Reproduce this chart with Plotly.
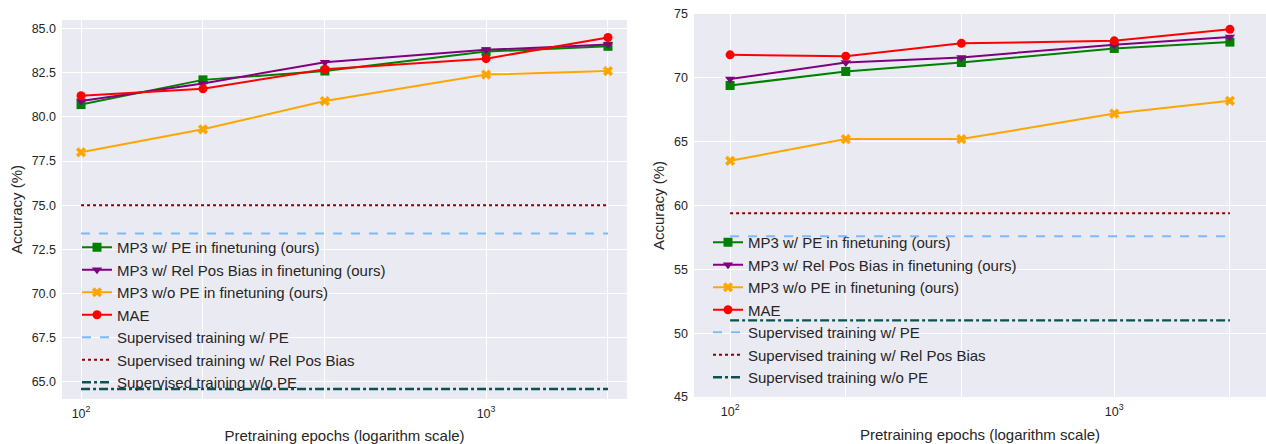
import plotly.graph_objects as go

epochs = [100, 200, 400, 1000, 2000]

# Left panel values
left_pe = [80.7, 82.1, 82.6, 83.7, 84.0]
left_rel = [80.9, 81.9, 83.1, 83.8, 84.1]
left_nope = [78.0, 79.3, 80.9, 82.4, 82.6]
left_mae = [81.2, 81.6, 82.7, 83.3, 84.5]
left_sup_pe = 73.4
left_sup_rel = 75.0
left_sup_nope = 64.6

# Right panel values
right_pe = [69.4, 70.5, 71.2, 72.3, 72.8]
right_rel = [69.9, 71.2, 71.6, 72.6, 73.2]
right_nope = [63.5, 65.2, 65.2, 67.2, 68.2]
right_mae = [71.8, 71.7, 72.7, 72.9, 73.8]
right_sup_pe = 57.6
right_sup_rel = 59.4
right_sup_nope = 51.0

names = [
    "MP3 w/ PE in finetuning (ours)",
    "MP3 w/ Rel Pos Bias in finetuning (ours)",
    "MP3 w/o PE in finetuning (ours)",
    "MAE",
    "Supervised training w/ PE",
    "Supervised training w/ Rel Pos Bias",
    "Supervised training w/o PE",
]
left_y_ticks = [65.0, 67.5, 70.0, 72.5, 75.0, 77.5, 80.0, 82.5, 85.0]
right_y_ticks = [45, 50, 55, 60, 65, 70, 75]
x_tick_vals = [100, 200, 400, 1000, 2000]
x_tick_text = ["10<sup>2</sup>", "", "", "10<sup>3</sup>", ""]

line_styles = [
    dict(color="#008000", marker="square"),
    dict(color="#800080", marker="triangle-down"),
    dict(color="#FFA500", marker="x"),
    dict(color="#FF0000", marker="circle"),
]
hline_styles = [
    dict(color="#7DB9FF", dash="dash", width=2),
    dict(color="#8B0000", dash="dot", width=2),
    dict(color="#0B5252", dash="dashdot", width=2.4),
]

FONT = "Liberation Sans, Arial, sans-serif"
TXT = "#262626"

W, H = 1266, 444
ML, MR, MT, MB = 62, 0, 14, 45
PW = W - ML - MR
PH = H - MT - MB


def xdom(x0, x1):
    return [(x0 - ML) / PW, min(1.0, (x1 - ML) / PW)]


def ydom(top, bottom):
    return [max(0.0, (H - MB - bottom) / PH), min(1.0, (H - MB - top) / PH)]


fig = go.Figure()


def add_panel(series, hvals, xa, ya, legend):
    for name, ys, st in zip(names[:4], series, line_styles):
        fig.add_trace(go.Scatter(
            x=epochs, y=ys, name=name, mode="lines+markers",
            line=dict(color=st["color"], width=2),
            marker=dict(symbol=st["marker"], size=9, color=st["color"]),
            xaxis=xa, yaxis=ya, legend=legend,
        ))
    for name, v, st in zip(names[4:], hvals, hline_styles):
        fig.add_trace(go.Scatter(
            x=epochs, y=[v] * len(epochs), name=name, mode="lines",
            line=dict(color=st["color"], dash=st["dash"], width=st["width"]),
            xaxis=xa, yaxis=ya, legend=legend,
        ))


add_panel([left_pe, left_rel, left_nope, left_mae],
          [left_sup_pe, left_sup_rel, left_sup_nope], "x", "y", "legend")
add_panel([right_pe, right_rel, right_nope, right_mae],
          [right_sup_pe, right_sup_rel, right_sup_nope], "x2", "y2", "legend2")

xcommon = dict(type="log", tickvals=x_tick_vals, ticktext=x_tick_text,
               showgrid=True, gridcolor="white", gridwidth=1.2, zeroline=False,
               automargin=False, ticklabelstandoff=5,
               tickfont=dict(size=12.5, color=TXT, family=FONT), ticks="",
               title=dict(text="Pretraining epochs (logarithm scale)",
                          font=dict(size=15, color=TXT, family=FONT), standoff=11))
ycommon = dict(showgrid=True, gridcolor="white", gridwidth=1.2, zeroline=False,
               automargin=False, ticklabelstandoff=5,
               tickfont=dict(size=12.5, color=TXT, family=FONT), ticks="",
               title=dict(text="Accuracy (%)", font=dict(size=15, color=TXT, family=FONT), standoff=5))

legend_common = dict(bgcolor="rgba(0,0,0,0)", font=dict(size=15, color=TXT, family=FONT),
                     xanchor="left", yanchor="top", traceorder="normal", itemwidth=30)

fig.update_layout(
    width=W, height=H,
    margin=dict(l=ML, r=MR, t=MT, b=MB),
    paper_bgcolor="white",
    plot_bgcolor="#EAEAF2",
    font=dict(family=FONT, color=TXT),
    xaxis=dict(**xcommon, domain=xdom(62, 627), range=[1.953, 3.348], anchor="y"),
    yaxis=dict(**ycommon, domain=ydom(20, 399), range=[64.03, 85.49],
               tickvals=left_y_ticks, tickformat=".1f", anchor="x"),
    xaxis2=dict(**xcommon, domain=xdom(694, 1266), range=[1.906, 3.395], anchor="y2"),
    yaxis2=dict(**ycommon, domain=ydom(14, 397), range=[45, 75],
                tickvals=right_y_ticks, anchor="x2"),
    legend=dict(**legend_common, x=(77 - ML) / PW, y=(H - MB - 231) / PH),
    legend2=dict(**legend_common, x=(708 - ML) / PW, y=(H - MB - 226) / PH),
)

fig.write_html("out.html", config={"displayModeBar": False},
               post_script="document.body.style.margin='0px';")
